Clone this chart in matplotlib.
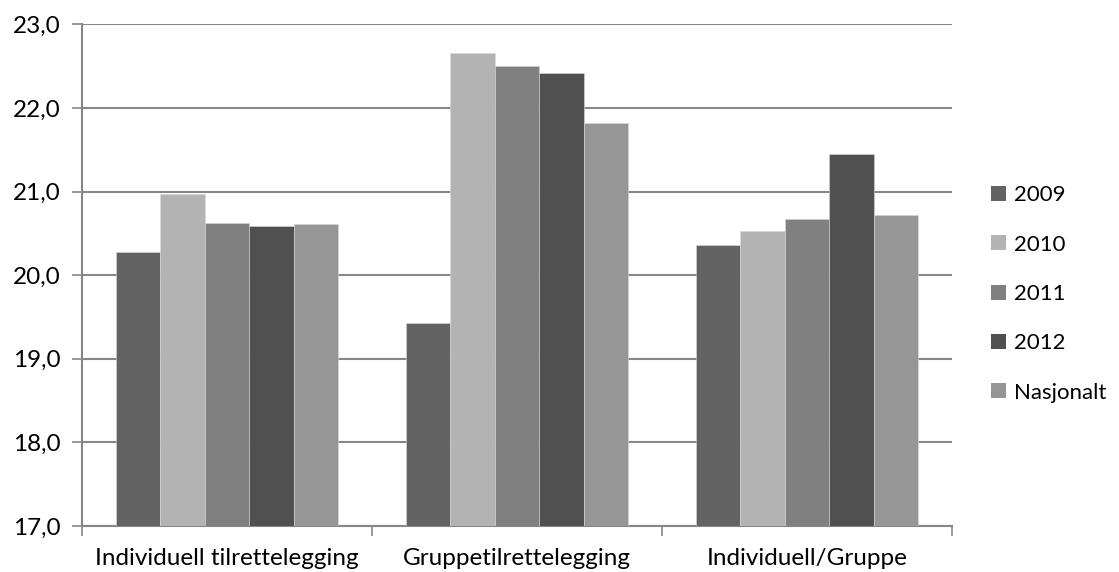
import matplotlib
matplotlib.use("Agg")
import matplotlib.pyplot as plt
from matplotlib.patches import Patch
from matplotlib.ticker import FuncFormatter, MultipleLocator
import numpy as np

plt.rcParams['font.family'] = ['Lato', 'DejaVu Sans']

categories = ["Individuell tilrettelegging", "Gruppetilrettelegging", "Individuell/Gruppe"]
series_names = ["2009", "2010", "2011", "2012", "Nasjonalt"]
values = {
    "2009":      [20.28, 19.43, 20.36],
    "2010":      [20.97, 22.66, 20.53],
    "2011":      [20.62, 22.50, 20.67],
    "2012":      [20.59, 22.42, 21.45],
    "Nasjonalt": [20.61, 21.82, 20.72],
}
colors = ["#636363", "#b3b3b3", "#808080", "#505050", "#969696"]

y_min, y_max = 17.0, 23.0
grid_color = "#878787"

fig = plt.figure(figsize=(11.19, 5.72), dpi=100)
ax = fig.add_axes([0.0733, 0.0804, 0.7775, 0.8768])

n = len(series_names)
bar_w = 0.153
centers = np.arange(len(categories)) + 0.5
for i, name in enumerate(series_names):
    offs = (i - (n - 1) / 2) * bar_w
    ax.bar(centers + offs, np.array(values[name]) - y_min, bottom=y_min,
           width=bar_w, color=colors[i], edgecolor="#d8d8d8", linewidth=0.4,
           zorder=3, label=name)

ax.set_xlim(0, len(categories))
ax.set_ylim(y_min, y_max)

ax.yaxis.set_major_locator(MultipleLocator(1.0))
ax.yaxis.set_major_formatter(FuncFormatter(lambda v, p: f"{v:.1f}".replace(".", ",")))
ax.grid(axis="y", color=grid_color, linewidth=1.5, zorder=0)
ax.set_axisbelow(True)

# category boundary ticks on x axis, labels centred between them
ax.set_xticks(np.arange(len(categories) + 1))
ax.set_xticklabels([])
ax.set_xticks(centers, minor=True)
ax.set_xticklabels(categories, minor=True, fontsize=17.5)
ax.tick_params(axis="x", which="minor", length=0, pad=16)
ax.tick_params(axis="x", which="major", length=7, width=1.2, color=grid_color, direction="out")
ax.tick_params(axis="y", length=7, width=1.2, color=grid_color, direction="out",
               labelsize=17.5, pad=8.5)

for side in ("top", "right"):
    ax.spines[side].set_visible(False)
for side in ("left", "bottom"):
    ax.spines[side].set_color(grid_color)
    ax.spines[side].set_linewidth(1.5)

handles = [Patch(facecolor=c, edgecolor="none") for c in colors]
fig.legend(handles, series_names, loc="center left", bbox_to_anchor=(0.886, 0.486),
           frameon=False, fontsize=16, handlelength=0.66, handleheight=0.66,
           handletextpad=0.35, labelspacing=1.32, borderpad=0, borderaxespad=0)

fig.savefig("out.png", dpi=100, facecolor="white")
